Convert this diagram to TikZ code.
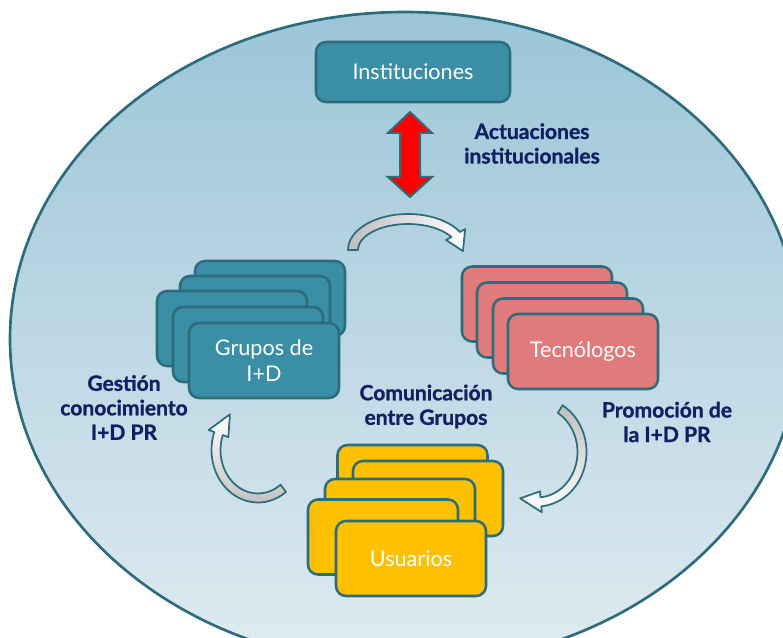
\documentclass[tikz,border=0pt]{standalone}
\usepackage{fontspec}
\setmainfont{Lato}
\newfontfamily\lblfont{Lato Bold}[FakeBold=1.2]
\definecolor{bord}{RGB}{44,108,124}
\definecolor{tealf}{RGB}{58,143,166}
\definecolor{salmon}{RGB}{225,122,122}
\definecolor{yell}{RGB}{255,192,0}
\definecolor{navy}{RGB}{16,33,99}
\definecolor{elltop}{RGB}{155,197,215}
\definecolor{ellbot}{RGB}{224,235,241}
\definecolor{arrgray}{RGB}{190,190,190}
\begin{document}
\begin{tikzpicture}[x=0.75pt,y=-0.75pt,
 card/.style={draw=bord, line width=1.9pt, rounded corners=7.5pt, minimum width=112.5pt, minimum height=56.25pt, inner sep=0pt, text=white, font=\fontsize{16.2}{19}\selectfont, align=center},
 tealcard/.style={card, fill=tealf},
 pinkcard/.style={card, fill=salmon},
 yellcard/.style={card, fill=yell},
 lbl/.style={text=navy, font=\lblfont\fontsize{15.8}{18.4}\selectfont, align=center, inner sep=0pt},
 curv/.style={draw=bord, line width=1.3pt, line join=round}
]
\useasboundingbox (0,0) rectangle (783,638);
\clip (0,0) rectangle (783,638);
\fill[white] (0,0) rectangle (783,638);
% big ellipse
\shade[top color=elltop, bottom color=ellbot] (405,339) ellipse [x radius=395, y radius=327];
\draw[bord, line width=2pt] (405,339) ellipse [x radius=395, y radius=327];

% Instituciones
\node[tealcard, minimum width=145.5pt, minimum height=45pt] (inst) at (413,72) {Instituciones};

% red double arrow
\filldraw[fill=red, draw=bord, line width=1.5pt, line join=miter]
 (410,112) -- (432,133) -- (420,133) -- (420,177) -- (432,177) -- (410,197)
 -- (388,177) -- (400,177) -- (400,133) -- (388,133) -- cycle;

% curved arrows
\shadedraw[curv, left color=arrgray, right color=white]
 ([shift={(408,250)}]180:60 and 36) arc[start angle=180, end angle=330, x radius=60, y radius=36]
 -- ([shift={(408,250)}]330:66 and 42)
 -- ([shift={(408,250)}]2:55 and 31)
 -- ([shift={(408,250)}]330:44 and 20)
 -- ([shift={(408,250)}]330:50 and 26)
 arc[start angle=330, end angle=180, x radius=50, y radius=26]
 -- cycle;

\shadedraw[curv, top color=arrgray, bottom color=white]
 ([shift={(537,452)}]301:49.5 and 54.5) arc[start angle=301, end angle=445, x radius=49.5, y radius=54.5]
 -- ([shift={(537,452)}]445:55.5 and 60.5)
 -- ([shift={(537,452)}]472:45 and 50)
 -- ([shift={(537,452)}]445:34.5 and 39.5)
 -- ([shift={(537,452)}]445:40.5 and 45.5)
 arc[start angle=445, end angle=301, x radius=40.5, y radius=45.5]
 -- cycle;

\shadedraw[curv, bottom color=arrgray, top color=white]
 ([shift={(258,450)}]53:46.5 and 52.5) arc[start angle=53, end angle=200, x radius=46.5, y radius=52.5]
 -- ([shift={(258,450)}]200:52.5 and 58.5)
 -- ([shift={(258,450)}]228:42 and 48)
 -- ([shift={(258,450)}]200:31.5 and 37.5)
 -- ([shift={(258,450)}]200:37.5 and 43.5)
 arc[start angle=200, end angle=53, x radius=37.5, y radius=43.5]
 -- cycle;

% Grupos stack
\node[tealcard] (g1) at (270,298.5) {};
\node[tealcard] (g2) at (255,313.5) {};
\node[tealcard] (g3) at (232,328.5) {};
\node[tealcard] (g4) at (248,344.5) {};
\node[tealcard] (g5) at (264,360.5) {Grupos de\\I+D};

% Tecnologos stack
\node[pinkcard] (t1) at (537,304) {};
\node[pinkcard] (t2) at (552,320) {};
\node[pinkcard] (t3) at (568,336) {};
\node[pinkcard] (t4) at (583,351.5) {Tecnólogos};

% Usuarios stack
\node[yellcard] (u1) at (412.5,482.5) {};
\node[yellcard] (u2) at (428,498.5) {};
\node[yellcard] (u3) at (400,516.5) {};
\node[yellcard] (u4) at (383,537) {};
\node[yellcard] (u5) at (411,558.5) {Usuarios};

% labels
\node[lbl] (act) at (532,143.5) {Actuaciones\\institucionales};
\node[lbl] (gest) at (124,407.5) {Gestión\\conocimiento\\I+D PR};
\node[lbl] (com) at (426,406.5) {Comunicación\\entre Grupos};
\node[lbl] (prom) at (667,422) {Promoción de\\la I+D PR};
\end{tikzpicture}
\end{document}
